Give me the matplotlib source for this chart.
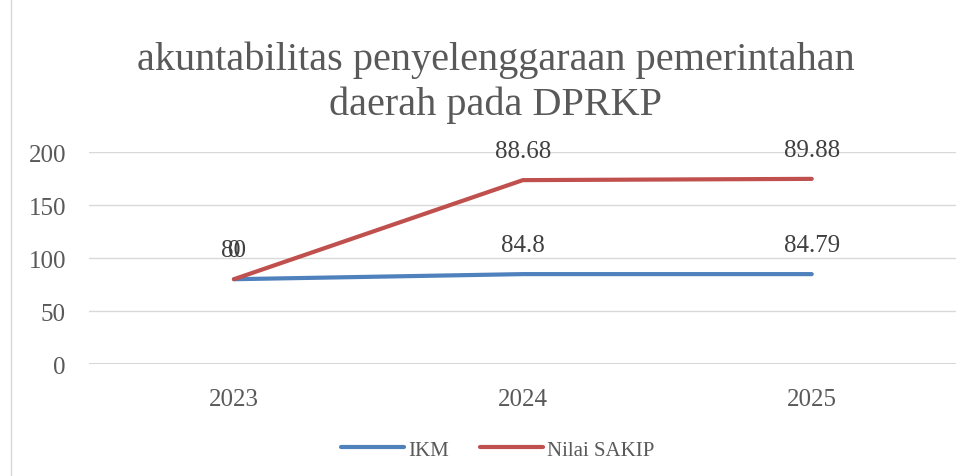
import matplotlib.pyplot as plt
from matplotlib.lines import Line2D

years = ["2023", "2024", "2025"]
ikm = [80, 84.8, 84.79]
sakip = [0, 88.68, 89.88]
yticks = [0, 50, 100, 150, 200]

BLUE = "#4F81BD"
RED = "#C0504D"
GRAY = "#595959"

plt.rcParams["font.family"] = ["Liberation Serif", "DejaVu Serif"]

fig = plt.figure(figsize=(9.76, 4.77), dpi=100)
ax = fig.add_axes([0.0917, 0.2348, 0.888, 0.4444])

x = range(len(years))
# stacked line chart: second series sits on top of the first
stacked = [a + b for a, b in zip(ikm, sakip)]
ax.plot(x, ikm, color=BLUE, lw=3, solid_capstyle="round", zorder=3)
ax.plot(x, stacked, color=RED, lw=3, solid_capstyle="round", zorder=3)

for i in x:
    ax.annotate(f"{ikm[i]:g}", (i, ikm[i]), xytext=(0, 13), textcoords="offset points",
                ha="center", va="bottom", fontsize=18, color="#404040")
    ax.annotate(f"{sakip[i]:g}", (i, stacked[i]), xytext=(0, 13), textcoords="offset points",
                ha="center", va="bottom", fontsize=18, color="#404040")

ax.set_xlim(-0.5, 2.5)
ax.set_ylim(0, 200)
ax.set_yticks(yticks)
ax.set_xticks(list(x))
ax.set_xticklabels(years)
ax.grid(axis="y", color="#D9D9D9", lw=1)
ax.set_axisbelow(True)
for s in ax.spines.values():
    s.set_visible(False)
ax.axhline(0, color="#D0D0D0", lw=1.2)
ax.tick_params(length=0, labelsize=18, labelcolor=GRAY, pad=17)
ax.tick_params(axis="x", pad=17)

fig.text(0.508, 0.912, "akuntabilitas penyelenggaraan pemerintahan\ndaerah pada DPRKP",
         ha="center", va="top", fontsize=29, color=GRAY, linespacing=1.25)

handles = [Line2D([], [], color=BLUE, lw=3, solid_capstyle="round"),
           Line2D([], [], color=RED, lw=3, solid_capstyle="round")]
fig.legend(handles, ["IKM", "Nilai SAKIP"], loc="center", bbox_to_anchor=(0.51, 0.055),
           ncol=2, frameon=False, fontsize=15, labelcolor=GRAY, handlelength=3.0,
           handletextpad=0.2, columnspacing=1.5)

fig.add_artist(Line2D([0.011, 0.011], [0, 1], transform=fig.transFigure, color="#D9D9D9", lw=1))

fig.savefig("out.png", dpi=100)
